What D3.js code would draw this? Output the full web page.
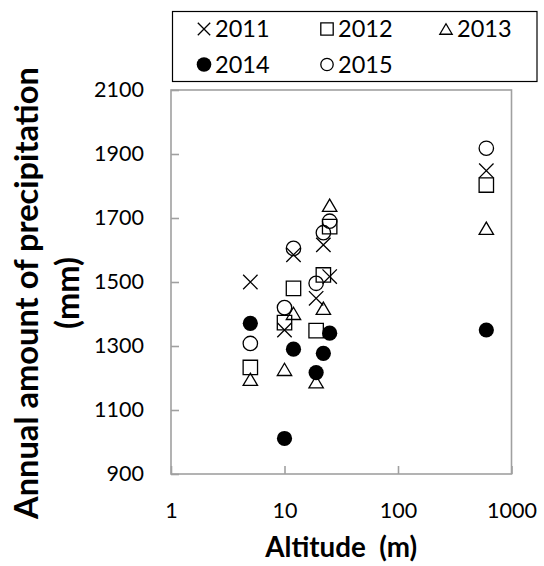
<!DOCTYPE html>
<html>
<head>
<meta charset="UTF-8"/>
<style>
  body { margin: 0; background: #fff; }
  text { font-family: Lato, "Open Sans", sans-serif; }
</style>
</head>
<body>
<script src="https://cdn.jsdelivr.net/npm/d3@7"></script>
<script>
// altitude of each site (m) and annual precipitation (mm) per year
var altitude = [5, 10, 12, 19, 22, 25, 600];
var p2011 = [1500, 1350, 1585, 1449, 1616, 1517, 1848];
var p2012 = [1233, 1373, 1480, 1348, 1522, 1673, 1803];
var p2013 = [1196, 1227, 1402, 1188, 1418, 1740, 1668];
var p2014 = [1371, 1011, 1290, 1217, 1277, 1340, 1350];
var p2015 = [1308, 1420, 1605, 1496, 1654, 1690, 1918];
var years = ["2011", "2012", "2013", "2014", "2015"];
var yTicks = [900, 1100, 1300, 1500, 1700, 1900, 2100];
var xTicks = [1, 10, 100, 1000];

var series = [p2011, p2012, p2013, p2014, p2015].map(function(v, i){
  return { name: years[i], values: v };
});
var shapes = ["times", "square", "triangle", "dot", "circle"];

var width = 544, height = 566;
var plotL = 171, plotR = 511.5, plotT = 90, plotB = 474;
var axisGray = "#a0a0a0";

var x = d3.scaleLog().domain([1, 1000]).range([plotL, plotR]);
var y = d3.scaleLinear().domain([900, 2100]).range([plotB, plotT]);

var svg = d3.select("body").append("svg")
  .attr("width", width)
  .attr("height", height);

// marker path, r = half size
var markerPath = function(shape, r){
  var p = d3.path();
  if (shape == "times") {
    p.moveTo(-r, -r); p.lineTo(r, r);
    p.moveTo(-r, r); p.lineTo(r, -r);
  } else if (shape == "square") {
    p.rect(-r, -r, 2*r, 2*r);
  } else if (shape == "triangle") {
    var h = r * 1.7;
    p.moveTo(0, -h/2); p.lineTo(r, h/2); p.lineTo(-r, h/2); p.closePath();
  } else {
    p.arc(0, 0, r, 0, 2*Math.PI);
  }
  return p.toString();
};

var styleMarker = function(sel, shape){
  sel.attr("fill", shape == "dot" ? "#000" : "none")
     .attr("stroke", "#000")
     .attr("stroke-width", shape == "dot" ? 0 : 1.3);
};

// plot frame
svg.append("rect")
  .attr("x", plotL).attr("y", plotT)
  .attr("width", plotR - plotL).attr("height", plotB - plotT)
  .attr("fill", "none")
  .attr("stroke", axisGray)
  .attr("stroke-width", 1.6);

// axes, ticks pointing inwards
var yAxis = svg.append("g")
  .attr("transform", "translate(" + plotL + ",0)")
  .call(d3.axisLeft(y).tickValues(yTicks).tickSizeInner(-8).tickSizeOuter(0)
        .tickPadding(27).tickFormat(d3.format("d")));

var xAxis = svg.append("g")
  .attr("transform", "translate(0," + plotB + ")")
  .call(d3.axisBottom(x).tickValues(xTicks).tickSizeInner(-8).tickSizeOuter(0)
        .tickPadding(29).tickFormat(d3.format("d")));

[yAxis, xAxis].forEach(function(a){
  a.select(".domain").remove();
  a.selectAll("line").attr("stroke", axisGray).attr("stroke-width", 1.6);
  a.selectAll("text")
    .attr("font-family", "Lato, sans-serif")
    .attr("font-size", 21.5)
    .attr("fill", "#000");
});

// points, one layer per year
series.forEach(function(s, i){
  svg.append("g")
    .selectAll("path")
    .data(s.values)
    .enter().append("path")
      .attr("transform", function(d, j){ return "translate(" + x(altitude[j]) + "," + y(d) + ")"; })
      .attr("d", markerPath(shapes[i], shapes[i] == "dot" ? 7.6 : 7.2))
      .call(styleMarker, shapes[i]);
});

// legend
svg.append("rect")
  .attr("x", 172.5).attr("y", 11.5)
  .attr("width", 364.5).attr("height", 70)
  .attr("fill", "#fff")
  .attr("stroke", "#000")
  .attr("stroke-width", 1.2);

var legCols = [204, 327, 446], legRows = [29, 64.5];
var leg = svg.selectAll("g.leg")
  .data(series)
  .enter().append("g")
    .attr("class", "leg")
    .attr("transform", function(d, i){
      return "translate(" + legCols[i % 3] + "," + legRows[Math.floor(i / 3)] + ")";
    });

leg.append("path")
  .attr("d", function(d, i){ return markerPath(shapes[i], shapes[i] == "dot" ? 7.3 : 6.2); })
  .each(function(d, i){ d3.select(this).call(styleMarker, shapes[i]); });

leg.append("text")
  .attr("x", 11)
  .attr("dy", "0.36em")
  .attr("font-size", 23.5)
  .text(function(d){ return d.name; });

// titles, sized to the widths in the original
var fitWidth = function(sel, w){
  var len = sel.node().getComputedTextLength();
  sel.attr("font-size", parseFloat(sel.attr("font-size")) * w / len);
};

var xTitle = svg.append("text")
  .attr("x", (plotL + plotR) / 2)
  .attr("y", 557)
  .attr("text-anchor", "middle")
  .attr("font-weight", "bold")
  .attr("font-size", 28)
  .style("white-space", "pre")
  .text("Altitude  (m)");
fitWidth(xTitle, 152);

var yTitle = svg.append("text")
  .attr("transform", "translate(38,293) rotate(-90)")
  .attr("text-anchor", "middle")
  .attr("font-weight", "bold")
  .attr("font-size", 32)
  .text("Annual amount of precipitation");
fitWidth(yTitle, 452);

svg.append("text")
  .attr("transform", "translate(79,293) rotate(-90)")
  .attr("text-anchor", "middle")
  .attr("font-weight", "bold")
  .attr("font-size", yTitle.attr("font-size"))
  .text("(mm)");
</script>
</body>
</html>
